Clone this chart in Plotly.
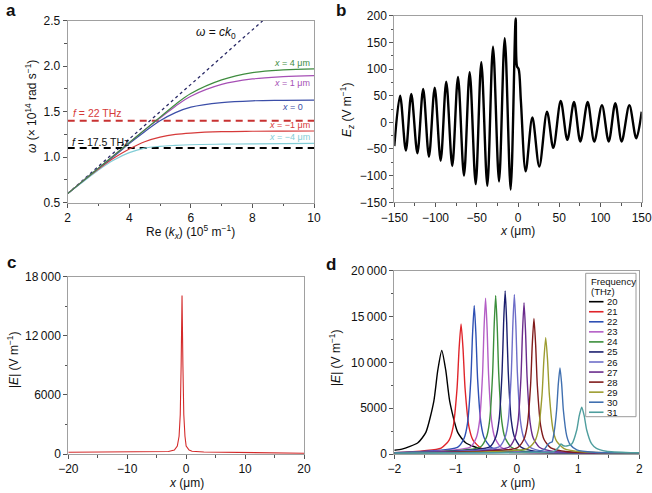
import plotly.graph_objects as go

W, H = 652, 493

# ---------------- Panel a : dispersion curves ----------------
KX = [2, 2.5, 3, 3.5, 4, 4.5, 5, 5.5, 6, 7, 8, 9, 10]
OMEGA_X4 = [0.60, 0.74, 0.88, 1.02, 1.16, 1.30, 1.44, 1.58, 1.70, 1.85, 1.93, 1.96, 1.97]
OMEGA_X1 = [0.60, 0.74, 0.88, 1.02, 1.16, 1.30, 1.43, 1.56, 1.67, 1.80, 1.86, 1.885, 1.896]
OMEGA_X0 = [0.60, 0.74, 0.88, 1.01, 1.15, 1.28, 1.40, 1.49, 1.55, 1.60, 1.62, 1.625, 1.628]
OMEGA_XM1 = [0.60, 0.74, 0.87, 0.99, 1.09, 1.17, 1.22, 1.25, 1.265, 1.28, 1.285, 1.287, 1.288]
OMEGA_XM4 = [0.60, 0.73, 0.86, 0.97, 1.05, 1.10, 1.12, 1.13, 1.137, 1.143, 1.147, 1.15, 1.152]
LIGHT_K = [2, 8.333]
LIGHT_OMEGA = [0.6, 2.5]
DASH_K = [2, 10]
OMEGA_F22 = [1.40, 1.40]
OMEGA_F175 = [1.10, 1.10]

# ---------------- Panel b : Ez field ----------------
B_X = [-150, -143, -136, -129.4, -122, -115, -108, -101, -93.8, -87, -79.7, -72.8,
       -65.5, -58.6, -51.3, -44.5, -37.2, -30.3, -23, -16.1, -8.9, -2.8, -1.2, 0.8,
       3.5, 9.3, 17.4, 25.8, 35.2, 42.8, 51.8, 59.8, 67.9, 75.6, 84.5, 92.5, 101.8,
       110, 118, 125.7, 135, 143.4, 150]
B_EZ = [-44.5, 50, -53, 53, -58, 62.5, -64.5, 65, -72, 76, -82, 85,
        -100, 94, -116, 113, -119, 142, -111, 158, -126, 195, 105, 100,
        40, -92, 9, -83, 20, -48, 40, -33, 38, -36, 38, -36, 32,
        -36, 36, -36, 32, -30, 20]

# ---------------- Panel c : |E| single frequency ----------------
C_X = [-20, -15, -10, -5, -3, -2, -1.5, -1.2, -1.0, -0.85, -0.7, -0.55, -0.4,
       -0.2, 0, 0.5, 1, 3, 10, 20]
C_E = [180, 200, 230, 220, 260, 400, 800, 1800, 4000, 9000, 16100, 9000, 4000,
       1800, 800, 400, 280, 200, 130, 80]

# ---------------- Panel d : |E| for frequencies ----------------
FREQS = ["20", "21", "22", "23", "24", "25", "26", "27", "28", "29", "30", "31"]
D_COLORS = ["#000000", "#e0242a", "#2f50b4", "#b45ec6", "#3c8f3c", "#1c1f6e",
            "#6e6ec8", "#6a2c8c", "#801c1c", "#9c9c30", "#4070b0", "#4f9e9e"]

D20_X = [-2.0, -1.875, -1.615, -1.485, -1.355, -1.29, -1.225, -1.16, -1.095, -0.965, -0.835, -0.575, 0.075, 2.0]
D20_Y = [405, 535, 1230, 2360, 5750, 9140, 11300, 9140, 5750, 2360, 1230, 535, 212, 150]
D21_X = [-2.0, -1.235, -1.105, -1.04, -0.975, -0.9425, -0.91, -0.8775, -0.845, -0.78, -0.715, -0.585, -0.26, 2.0]
D21_Y = [150, 647, 1520, 2940, 7200, 11460, 14200, 11460, 7200, 2940, 1520, 647, 241, 120]
D22_X = [-2.0, -0.97, -0.86, -0.805, -0.75, -0.7225, -0.695, -0.6675, -0.64, -0.585, -0.53, -0.42, -0.145, 2.0]
D22_Y = [140, 724, 1720, 3340, 8200, 13060, 16200, 13060, 8200, 3340, 1720, 724, 262, 120]
D23_X = [-2.0, -0.76, -0.66, -0.61, -0.56, -0.535, -0.51, -0.485, -0.46, -0.41, -0.36, -0.26, -0.01, 2.0]
D23_Y = [130, 754, 1800, 3500, 8600, 13700, 17000, 13700, 8600, 3500, 1800, 754, 270, 120]
D24_X = [-2.0, -0.595, -0.495, -0.445, -0.395, -0.37, -0.345, -0.32, -0.295, -0.245, -0.195, -0.095, 0.155, 2.0]
D24_Y = [130, 766, 1830, 3560, 8750, 13940, 17300, 13940, 8750, 3560, 1830, 766, 271, 120]
D25_X = [-2.0, -0.44, -0.34, -0.29, -0.24, -0.215, -0.19, -0.165, -0.14, -0.09, -0.04, 0.06, 0.31, 2.0]
D25_Y = [130, 785, 1880, 3660, 9000, 14340, 17800, 14340, 9000, 3660, 1880, 785, 276, 120]
D26_X = [-2.0, -0.29, -0.19, -0.14, -0.09, -0.065, -0.04, -0.015, 0.01, 0.06, 0.11, 0.21, 0.46, 2.0]
D26_Y = [130, 770, 1840, 3580, 8800, 14020, 17400, 14020, 8800, 3580, 1840, 770, 272, 120]
D27_X = [-2.0, -0.132, -0.032, 0.018, 0.068, 0.093, 0.118, 0.143, 0.168, 0.218, 0.268, 0.368, 0.618, 2.0]
D27_Y = [130, 735, 1750, 3400, 8350, 13300, 16500, 13300, 8350, 3400, 1750, 735, 265, 120]
D28_X = [-2.0, 0.005, 0.115, 0.17, 0.225, 0.2525, 0.28, 0.3075, 0.335, 0.39, 0.445, 0.555, 0.83, 2.0]
D28_Y = [130, 670, 1580, 3060, 7500, 11940, 14800, 11940, 7500, 3060, 1580, 670, 248, 120]
D29_X = [-2.0, 0.172, 0.292, 0.352, 0.412, 0.442, 0.472, 0.502, 0.532, 0.592, 0.652, 0.772, 1.072, 2.0]
D29_Y = [130, 589, 1370, 2640, 6450, 10260, 12700, 10260, 6450, 2640, 1370, 589, 227, 120]
D30_X = [-2.0, 0.3, 0.45, 0.51, 0.545, 0.575, 0.61, 0.65, 0.6775, 0.705, 0.7325, 0.76, 0.815, 0.87, 0.98, 1.255, 2.0]
D30_Y = [130, 268, 520, 1050, 1250, 1300, 2400, 4800, 7620, 9400, 7620, 4800, 1980, 1040, 460, 190, 120]
D31_X = [-2.0, 0.3, 0.6, 0.68, 0.72, 0.76, 0.815, 0.9, 0.98, 1.02, 1.06, 1.10, 1.14, 1.22, 1.30, 1.46, 1.86, 2.0]
D31_Y = [100, 156, 250, 700, 1100, 900, 870, 1120, 2650, 4180, 5100, 4180, 2650, 1120, 610, 296, 150, 140]

D_XS = [D20_X, D21_X, D22_X, D23_X, D24_X, D25_X, D26_X, D27_X, D28_X, D29_X, D30_X, D31_X]
D_YS = [D20_Y, D21_Y, D22_Y, D23_Y, D24_Y, D25_Y, D26_Y, D27_Y, D28_Y, D29_Y, D30_Y, D31_Y]

FONT = "Liberation Sans, Arial, Helvetica, sans-serif"


def px(xp):
    return xp / W


def py(yp):
    return 1 - yp / H


fig = go.Figure()

# Panel a traces
fig.add_trace(go.Scatter(x=LIGHT_K, y=LIGHT_OMEGA, mode="lines",
                         line=dict(color="#2a2a66", width=1.3, dash="dot"), xaxis="x", yaxis="y"))
fig.add_trace(go.Scatter(x=DASH_K, y=OMEGA_F22, mode="lines",
                         line=dict(color="#c83232", width=2, dash="7px,5px"), xaxis="x", yaxis="y"))
fig.add_trace(go.Scatter(x=DASH_K, y=OMEGA_F175, mode="lines",
                         line=dict(color="#000000", width=2, dash="7px,5px"), xaxis="x", yaxis="y"))
for ys, col in [(OMEGA_XM4, "#82cdd6"), (OMEGA_XM1, "#d63a3a"), (OMEGA_X0, "#3b4ea8"),
                (OMEGA_X1, "#a64fb5"), (OMEGA_X4, "#3f8c3f")]:
    fig.add_trace(go.Scatter(x=KX, y=ys, mode="lines", line=dict(color=col, width=1.2, shape="spline"),
                             xaxis="x", yaxis="y"))

# Panel b
fig.add_trace(go.Scatter(x=B_X, y=B_EZ, mode="lines",
                         line=dict(color="#000000", width=2.4, shape="spline", smoothing=0.9),
                         xaxis="x2", yaxis="y2"))

# Panel c
fig.add_trace(go.Scatter(x=C_X, y=C_E, mode="lines", line=dict(color="#d42a2a", width=1.1),
                         xaxis="x3", yaxis="y3"))

# Panel d
for xs, ys, col in zip(D_XS, D_YS, D_COLORS):
    fig.add_trace(go.Scatter(x=xs, y=ys, mode="lines",
                             line=dict(color=col, width=1.4, shape="spline", smoothing=0.6),
                             xaxis="x4", yaxis="y4"))

axis_common = dict(showline=True, linecolor="#a0a0a0", linewidth=1, mirror=True,
                   ticks="outside", ticklen=4, tickcolor="#555555", tickwidth=1,
                   showgrid=False, zeroline=False, automargin=False, ticklabeloverflow="allow",
                   tickfont=dict(family=FONT, size=12, color="#111111"),
                   minor=dict(ticks="outside", ticklen=2.5, tickcolor="#555555", tickwidth=1))

M = "\u2212"
TS = "\u2009"

fig.update_layout(
    width=W, height=H, margin=dict(l=0, r=0, t=0, b=0, autoexpand=False),
    paper_bgcolor="white", plot_bgcolor="white", showlegend=False,
    font=dict(family=FONT, size=12, color="#111111"),
    xaxis=dict(axis_common, domain=[px(67.7), px(314)], range=[2, 10], anchor="y",
               tickvals=[2, 4, 6, 8, 10], ticktext=["2", "4", "6", "8", "10"],
               minor=dict(axis_common["minor"], dtick=1, tick0=2)),
    yaxis=dict(axis_common, domain=[py(202.7), py(20.7)], range=[0.5, 2.5], anchor="x",
               tickvals=[0.5, 1.0, 1.5, 2.0, 2.5], ticktext=["0.5", "1.0", "1.5", "2.0", "2.5"],
               minor=dict(axis_common["minor"], dtick=0.25, tick0=0.5)),
    xaxis2=dict(axis_common, domain=[px(394.3), px(641.7)], range=[-150, 150], anchor="y2",
                tickvals=[-150, -100, -50, 0, 50, 100, 150],
                ticktext=[M + "150", M + "100", M + "50", "0", "50", "100", "150"],
                minor=dict(axis_common["minor"], dtick=25, tick0=-150)),
    yaxis2=dict(axis_common, domain=[py(202.3), py(15.7)], range=[-150, 200], anchor="x2",
                tickvals=[-150, -100, -50, 0, 50, 100, 150, 200],
                ticktext=[M + "150", M + "100", M + "50", "0", "50", "100", "150", "200"],
                minor=dict(axis_common["minor"], dtick=25, tick0=-150)),
    xaxis3=dict(axis_common, domain=[px(68.3), px(304)], range=[-20, 20], anchor="y3",
                tickvals=[-20, -10, 0, 10, 20], ticktext=[M + "20", M + "10", "0", "10", "20"],
                minor=dict(axis_common["minor"], dtick=5, tick0=-20)),
    yaxis3=dict(axis_common, domain=[py(454), py(276.7)], range=[0, 18000], anchor="x3",
                tickvals=[0, 6000, 12000, 18000], ticktext=["0", "6000", "12" + TS + "000", "18" + TS + "000"],
                minor=dict(axis_common["minor"], dtick=3000, tick0=0)),
    xaxis4=dict(axis_common, domain=[px(394.3), px(639.3)], range=[-2, 2], anchor="y4",
                tickvals=[-2, -1, 0, 1, 2], ticktext=[M + "2", M + "1", "0", "1", "2"],
                minor=dict(axis_common["minor"], dtick=0.5, tick0=-2)),
    yaxis4=dict(axis_common, domain=[py(454), py(270.7)], range=[0, 20000], anchor="x4",
                tickvals=[0, 5000, 10000, 15000, 20000],
                ticktext=["0", "5000", "10" + TS + "000", "15" + TS + "000", "20" + TS + "000"],
                minor=dict(axis_common["minor"], dtick=2500, tick0=0)),
)

ann = []


def text_px(x, y, text, size=12, color="#111111", xanchor="center", angle=0, bold=False):
    ann.append(dict(x=px(x), y=py(y), xref="paper", yref="paper", text=("<b>%s</b>" % text) if bold else text,
                    showarrow=False, xanchor=xanchor, yanchor="middle", textangle=angle,
                    font=dict(family=FONT, size=size, color=color)))


# panel letters
text_px(11, 11, "a", size=17, bold=True)
text_px(341, 11, "b", size=17, bold=True)
text_px(11, 262, "c", size=17, bold=True)
text_px(331, 264, "d", size=17, bold=True)

# axis titles
text_px(190, 232, "Re (<i>k</i><sub><i>x</i></sub>) (10<sup>5</sup> m<sup>" + M + "1</sup>)")
text_px(31, 107, "<i>ω</i> (× 10<sup>14</sup> rad s<sup>" + M + "1</sup>)", angle=-90)
text_px(517, 231, "<i>x</i> (μm)")
text_px(347, 110, "<i>E</i><sub><i>z</i></sub> (V m<sup>" + M + "1</sup>)", angle=-90)
text_px(186, 483, "<i>x</i> (μm)")
text_px(13, 360, "|<i>E</i>| (V m<sup>" + M + "1</sup>)", angle=-90)
text_px(517, 483, "<i>x</i> (μm)")
text_px(335, 358, "|<i>E</i>| (V m<sup>" + M + "1</sup>)", angle=-90)


# panel a in-plot labels
def text_data(x, y, text, color, size=9, xanchor="right"):
    ann.append(dict(x=x, y=y, xref="x", yref="y", text=text, showarrow=False,
                    xanchor=xanchor, yanchor="middle", font=dict(family=FONT, size=size, color=color)))


text_data(6.1, 2.36, "<i>ω</i> = <i>ck</i><sub>0</sub>", "#111111", size=12, xanchor="left")
text_data(9.95, 2.04, "<i>x</i> = 4 μm", "#3f8c3f")
text_data(9.95, 1.82, "<i>x</i> = 1 μm", "#a64fb5")
text_data(9.7, 1.555, "<i>x</i> = 0", "#3b4ea8")
text_data(9.95, 1.35, "<i>x</i> = " + M + "1 μm", "#d63a3a")
text_data(9.95, 1.225, "<i>x</i> = " + M + "4 μm", "#82cdd6")
text_data(2.1, 1.49, "<i>f</i> = 22 THz", "#d63a3a", size=10.5, xanchor="left")
text_data(2.08, 1.17, "<i>f</i> = 17.5 THz", "#111111", size=10.5, xanchor="left")

# manual legend for panel d
shapes = [dict(type="rect", xref="paper", yref="paper", x0=px(585.7), x1=px(636), y0=py(416.7), y1=py(273.3),
               line=dict(color="#9a9a9a", width=1), fillcolor="white", layer="above")]
text_px(588.5, 281, "Frequency", size=9.5, xanchor="left")
text_px(588.5, 291.5, "(THz)", size=9.5, xanchor="left")
for i, (f, col) in enumerate(zip(FREQS, D_COLORS)):
    yy = 301.7 + i * 10.05
    shapes.append(dict(type="line", xref="paper", yref="paper", x0=px(589), x1=px(603.5), y0=py(yy), y1=py(yy),
                       line=dict(color=col, width=1.6), layer="above"))
    text_px(605, yy, f, size=9.5, xanchor="left")

fig.update_layout(annotations=ann, shapes=shapes)

fig.write_html("out.html", config={"displayModeBar": False},
               post_script="document.body.style.margin='0px';document.body.style.padding='0px';"
                           "document.body.style.overflow='hidden';")
